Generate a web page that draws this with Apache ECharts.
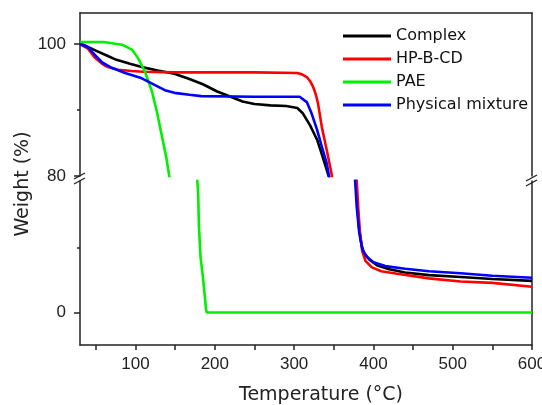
<!DOCTYPE html>
<html>
<head>
<meta charset="utf-8">
<script src="https://cdn.jsdelivr.net/npm/echarts@6/dist/echarts.min.js"></script>
<style>html,body{margin:0;padding:0;background:#fff}#c{width:542px;height:405px}</style>
</head>
<body>
<div id="c"></div>
<script>
// Series data: [temperature (°C), weight (%)]
const complexData = [[30,100],[36,99.8],[50,99.0],[63,98.3],[76,97.6],[93,97.0],[108,96.5],[128,96.0],[149,95.5],[168,94.7],[185,93.9],[203,92.8],[220,92.0],[235,91.3],[250,90.9],[270,90.7],[290,90.6],[304,90.3],[311,89.5],[320,87.7],[329,85.5],[336,82.9],[343,80.2],[346,79],[378,20.3],[380,16],[382,13],[385,10.5],[388,9.2],[395,8.2],[405,7.3],[420,6.7],[440,6.2],[470,5.8],[510,5.5],[550,5.2],[600,4.9]];
const hpbcdData = [[30,100],[40,99.3],[49,97.9],[58,97.0],[65,96.5],[78,96.1],[95,95.9],[110,95.8],[150,95.7],[200,95.7],[250,95.7],[304,95.6],[310,95.4],[316,95.0],[320,94.4],[324,93.5],[327,92.5],[330,91.1],[335,87.4],[341,84],[347,80.5],[350,78],[379,20.3],[381,16],[383,12.5],[386,9.5],[390,8.0],[398,7.0],[410,6.4],[430,6.0],[470,5.3],[510,4.8],[550,4.6],[600,4.0]];
const paeData = [[30,100.3],[60,100.3],[83,99.9],[96,99.1],[103,97.9],[112,95.8],[121,92.7],[127,89.7],[133,86.2],[139,82.7],[142,80.4],[144,79],[178,20.3],[179,18.5],[180,13.3],[182,8.6],[185,5.5],[187,3],[189,0.4],[190,0],[600,0]];
const mixtureData = [[30,100],[40,99.5],[49,98.3],[58,97.2],[70,96.4],[87,95.6],[108,94.8],[124,93.8],[137,93.0],[149,92.6],[168,92.3],[183,92.1],[250,92.0],[307,92.0],[316,91.2],[322,89.5],[329,87],[335,84.4],[341,82],[344,80],[347,78],[377,20.3],[379,16.4],[382,12.5],[386,9.8],[392,8.6],[400,7.8],[415,7.2],[440,6.8],[470,6.4],[510,6.1],[550,5.7],[600,5.4]];

const seriesNames = ['Complex', 'HP-B-CD', 'PAE', 'Physical mixture'];
const seriesColors = ['#000000', '#ff0000', '#00f000', '#0000ff'];
const seriesData = [complexData, hpbcdData, paeData, mixtureData];

const xTickValues = [50,100,150,200,250,300,350,400,450,500,550,600];
const xLabelValues = [100,200,300,400,500,600];
const upperLabelValues = [80, 100];
const upperMinorValues = [90];
const lowerLabelValues = [0];
const lowerMinorValues = [10];

const AX = '#222';
const tickFont = { fontFamily: 'Liberation Sans, Arial', fontSize: 17, color: '#222' };

function yAxisBase(grid, min, max) {
  return { type: 'value', gridIndex: grid, min: min, max: max, splitLine: { show: false } };
}

const chart = echarts.init(document.getElementById('c'));
const series = [];
seriesData.forEach((d, i) => {
  [0, 1].forEach(g => {
    series.push({
      name: seriesNames[i], type: 'line', data: d, xAxisIndex: g, yAxisIndex: g === 0 ? 0 : 3,
      showSymbol: false, symbol: 'none', clip: true, animation: false,
      lineStyle: { color: seriesColors[i], width: 2.6 }, itemStyle: { color: seriesColors[i] }
    });
  });
});

chart.setOption({
  animation: false,
  grid: [
    { left: 80, right: 10, top: 13, height: 163, containLabel: false, outerBoundsMode: 'none' },
    { left: 80, right: 10, top: 181, bottom: 60, containLabel: false, outerBoundsMode: 'none' }
  ],
  xAxis: [
    { type: 'value', gridIndex: 0, min: 30, max: 600, position: 'top',
      axisLine: { show: true, lineStyle: { color: AX, width: 1.5 } },
      axisTick: { show: false }, axisLabel: { show: false }, splitLine: { show: false } },
    { type: 'value', gridIndex: 1, min: 30, max: 600, position: 'bottom',
      axisLine: { show: true, onZero: false, lineStyle: { color: AX, width: 1.5 } },
      axisTick: { show: true, customValues: xTickValues, length: 5, lineStyle: { color: AX, width: 1.5 } },
      axisLabel: { customValues: xLabelValues, margin: 11, ...tickFont },
      splitLine: { show: false },
      name: 'Temperature (°C)', nameLocation: 'middle', nameGap: 41,
      nameTextStyle: { fontFamily: 'DejaVu Sans', fontSize: 19, color: '#222', padding: [0, 0, 0, 30] } }
  ],
  yAxis: [
    Object.assign(yAxisBase(0, 80, 104.7), { position: 'left',
      axisLine: { show: true, onZero: false, lineStyle: { color: AX, width: 1.5 } },
      axisTick: { show: true, customValues: upperLabelValues, length: 6, lineStyle: { color: AX, width: 1.5 } },
      axisLabel: { customValues: upperLabelValues, margin: 14, ...tickFont } }),
    Object.assign(yAxisBase(0, 80, 104.7), { position: 'left',
      axisLine: { show: false },
      axisTick: { show: true, customValues: upperMinorValues, length: 3, lineStyle: { color: AX, width: 1.5 } },
      axisLabel: { show: false } }),
    Object.assign(yAxisBase(0, 80, 104.7), { position: 'right',
      axisLine: { show: true, onZero: false, lineStyle: { color: AX, width: 1.5 } },
      axisTick: { show: false }, axisLabel: { show: false } }),
    Object.assign(yAxisBase(1, -5.04, 20.4), { position: 'left',
      axisLine: { show: true, onZero: false, lineStyle: { color: AX, width: 1.5 } },
      axisTick: { show: true, customValues: lowerLabelValues, length: 6, lineStyle: { color: AX, width: 1.5 } },
      axisLabel: { customValues: lowerLabelValues, margin: 14, ...tickFont } }),
    Object.assign(yAxisBase(1, -5.04, 20.4), { position: 'left',
      axisLine: { show: false },
      axisTick: { show: true, customValues: lowerMinorValues, length: 3, lineStyle: { color: AX, width: 1.5 } },
      axisLabel: { show: false } }),
    Object.assign(yAxisBase(1, -5.04, 20.4), { position: 'right',
      axisLine: { show: true, onZero: false, lineStyle: { color: AX, width: 1.5 } },
      axisTick: { show: false }, axisLabel: { show: false } })
  ],
  legend: {
    orient: 'vertical', left: 338, top: 23, itemWidth: 48, itemHeight: 3, itemGap: 7,
    icon: 'rect', data: seriesNames, selectedMode: false,
    textStyle: { fontFamily: 'DejaVu Sans', fontSize: 16, color: '#111', lineHeight: 16 }
  },
  series: series
});

// break marks on both vertical axes, placed from the axis scales
const pTopL = chart.convertToPixel({ gridIndex: 0 }, [30, 80]);
const pTopR = chart.convertToPixel({ gridIndex: 0 }, [600, 80]);
const pLowL = chart.convertToPixel({ gridIndex: 1 }, [30, 20.4]);
const pLowR = chart.convertToPixel({ gridIndex: 1 }, [600, 20.4]);
function slash(x, y) {
  return { type: 'line', shape: { x1: x - 6, y1: y + 3, x2: x + 5, y2: y - 3 },
    style: { stroke: '#222', lineWidth: 1.4 }, z: 100 };
}
chart.setOption({
  graphic: [
    slash(pTopL[0], pTopL[1]), slash(pLowL[0], pLowL[1]),
    slash(pTopR[0], pTopR[1] + 2), slash(pLowR[0], pLowR[1] + 2),
    { type: 'text', x: 23, y: 184, rotation: Math.PI / 2,
      style: { text: 'Weight (%)', font: '19px "DejaVu Sans"', fill: '#222', align: 'center', verticalAlign: 'middle' } }
  ]
});
</script>
</body>
</html>
